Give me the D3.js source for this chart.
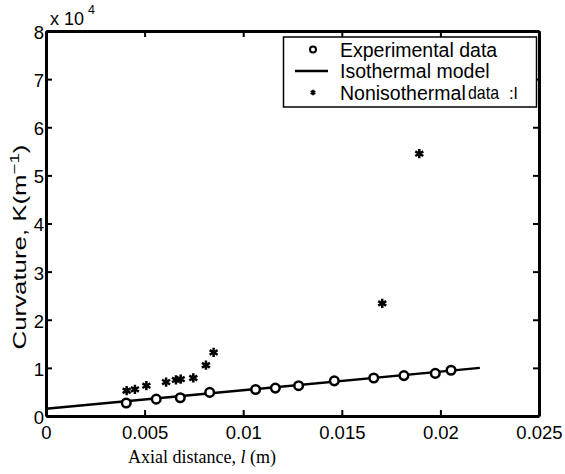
<!DOCTYPE html>
<html>
<head>
<meta charset="utf-8">
<script src="https://cdn.jsdelivr.net/npm/d3@7"></script>
<style>
  body { margin: 0; background: white; }
  svg { display: block; }
</style>
</head>
<body>
<div id="chart"></div>
<script>
// ============================================
// Curvature vs axial distance
// ============================================

// experimental data (circles)
const expX = [0.00407, 0.00559, 0.00681, 0.0083, 0.01063, 0.01163, 0.01281, 0.01462, 0.01662, 0.01815, 0.01974, 0.02054];
const expY = [2700, 3500, 3800, 4900, 5500, 5800, 6300, 7300, 7900, 8400, 8850, 9500];

// isothermal model (line)
const modelX = [0, 0.022];
const modelY = [1500, 10000];

// nonisothermal data (stars)
const nonX = [0.00409, 0.00451, 0.00509, 0.00609, 0.00659, 0.00683, 0.00747, 0.00811, 0.0085, 0.01705, 0.01893];
const nonY = [5250, 5550, 6300, 7050, 7500, 7650, 7900, 10550, 13200, 23400, 54500];

const xTicks = [0, 0.005, 0.01, 0.015, 0.02, 0.025];
const xTickLabels = ['0', '0.005', '0.01', '0.015', '0.02', '0.025'];
const yTicks = [0, 10000, 20000, 30000, 40000, 50000, 60000, 70000, 80000];
const yTickLabels = ['0', '1', '2', '3', '4', '5', '6', '7', '8'];

const legendLabels = ['Experimental data', 'Isothermal model', 'Nonisothermal', 'data'];

const W = 565, H = 474;
const SANS = 'Arial, "Liberation Sans", Helvetica, sans-serif';
const svg = d3.select('#chart')
    .append('svg')
    .attr('width', W)
    .attr('height', H)
    .style('font-family', SANS);

// scales
const x = d3.scaleLinear().domain([0, 0.025]).range([46, 539]);
const y = d3.scaleLinear().domain([0, 80000]).range([416, 31]);

// model line
const line = d3.line()
    .x(d => x(d[0]))
    .y(d => y(d[1]));

svg.append('path')
    .datum(d3.zip(modelX, modelY))
    .attr('fill', 'none')
    .attr('stroke', '#000')
    .attr('stroke-width', 2.5)
    .attr('d', line);

// experimental circles
svg.selectAll('.exp')
    .data(d3.zip(expX, expY))
    .enter()
    .append('circle')
    .attr('class', 'exp')
    .attr('cx', d => x(d[0]))
    .attr('cy', d => y(d[1]))
    .attr('r', 4.3)
    .attr('fill', 'white')
    .attr('stroke', '#000')
    .attr('stroke-width', 2.5);

// nonisothermal stars
const star = d3.symbol().type(d3.symbolAsterisk).size(60);
svg.selectAll('.non')
    .data(d3.zip(nonX, nonY))
    .enter()
    .append('path')
    .attr('class', 'non')
    .attr('transform', d => `translate(${x(d[0])},${y(d[1])})`)
    .attr('d', star)
    .attr('fill', 'none')
    .attr('stroke', '#000')
    .attr('stroke-width', 2.5);

// axes (inward ticks, box)
const axBottom = svg.append('g')
    .attr('transform', `translate(0,${y(0)})`)
    .call(d3.axisBottom(x).tickValues(xTicks)
        .tickFormat((d, i) => xTickLabels[i])
        .tickSizeInner(-6).tickSizeOuter(0).tickPadding(10));

const axLeft = svg.append('g')
    .attr('transform', `translate(${x(0)},0)`)
    .call(d3.axisLeft(y).tickValues(yTicks)
        .tickFormat((d, i) => yTickLabels[i])
        .tickSizeInner(-6).tickSizeOuter(0).tickPadding(2));

const axTop = svg.append('g')
    .attr('transform', `translate(0,${y(80000)})`)
    .call(d3.axisTop(x).tickValues(xTicks).tickFormat('')
        .tickSizeInner(-6).tickSizeOuter(0));

const axRight = svg.append('g')
    .attr('transform', `translate(${x(0.025)},0)`)
    .call(d3.axisRight(y).tickValues(yTicks).tickFormat('')
        .tickSizeInner(-6).tickSizeOuter(0));

[axBottom, axLeft, axTop, axRight].forEach(g => {
    g.select('.domain').attr('stroke', '#000').attr('stroke-width', 3);
    g.selectAll('.tick line').attr('stroke', '#000').attr('stroke-width', 2);
    g.selectAll('.tick text')
        .attr('fill', '#000')
        .style('font-size', '18.5px')
        .style('font-family', SANS);
});
axLeft.selectAll('.tick text').attr('dy', '0.4em');

// exponent
svg.append('text')
    .attr('x', 50)
    .attr('y', 25)
    .style('font-size', '18px')
    .text('x 10');
svg.append('text')
    .attr('x', 88)
    .attr('y', 14)
    .style('font-size', '12.5px')
    .text('4');

// legend
const legend = svg.append('g');
legend.append('rect')
    .attr('x', 283.5)
    .attr('y', 37)
    .attr('width', 253)
    .attr('height', 70)
    .attr('fill', 'white')
    .attr('stroke', '#000')
    .attr('stroke-width', 1.5);

const rowY = [49.5, 71, 92.5];
legend.append('circle')
    .attr('cx', 313).attr('cy', rowY[0])
    .attr('r', 3).attr('fill', 'white')
    .attr('stroke', '#000').attr('stroke-width', 2);
legend.append('line')
    .attr('x1', 295).attr('x2', 328)
    .attr('y1', rowY[1]).attr('y2', rowY[1])
    .attr('stroke', '#000').attr('stroke-width', 2.5);
legend.append('path')
    .attr('transform', `translate(313,${rowY[2]})`)
    .attr('d', d3.symbol().type(d3.symbolAsterisk).size(20))
    .attr('stroke', '#000').attr('stroke-width', 1.8);

legend.selectAll('.lg')
    .data(legendLabels.slice(0, 3))
    .enter()
    .append('text')
    .attr('x', 340)
    .attr('y', (d, i) => rowY[i])
    .attr('dy', '0.36em')
    .style('font-size', '19.5px')
    .text(d => d);
legend.append('text')
    .attr('x', 468)
    .attr('y', rowY[2])
    .attr('dy', '0.36em')
    .attr('textLength', 31)
    .attr('lengthAdjust', 'spacingAndGlyphs')
    .style('font-size', '19px')
    .text(legendLabels[3]);
legend.append('text')
    .attr('x', 509)
    .attr('y', rowY[2])
    .attr('dy', '0.36em')
    .style('font-size', '17px')
    .text(':l');

// axis labels
svg.append('text')
    .attr('x', 128)
    .attr('y', 463)
    .style('font-family', '"Liberation Serif", "Times New Roman", serif')
    .style('font-size', '18px')
    .html('Axial distance, <tspan font-style="italic">l</tspan> (m)');

svg.append('text')
    .attr('transform', 'translate(26,247) rotate(-90)')
    .attr('text-anchor', 'middle')
    .attr('textLength', 205)
    .attr('lengthAdjust', 'spacingAndGlyphs')
    .style('font-size', '18px')
    .html('Curvature, K(m<tspan dy="-7" font-size="13px">\u22121</tspan><tspan dy="7">)</tspan>');
</script>
</body>
</html>
